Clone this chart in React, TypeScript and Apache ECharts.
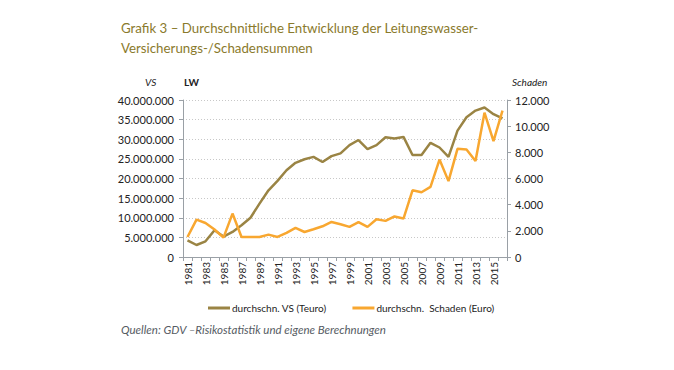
import React, { useEffect, useRef } from "react";
import * as echarts from "echarts";

const years = [
  "1981","1982","1983","1984","1985","1986","1987","1988","1989","1990",
  "1991","1992","1993","1994","1995","1996","1997","1998","1999","2000",
  "2001","2002","2003","2004","2005","2006","2007","2008","2009","2010",
  "2011","2012","2013","2014","2015","2016",
];

// durchschn. VS (Teuro) – left axis
const vsValues = [
  4260000, 3060000, 4000000, 6800000, 5200000, 6400000, 8100000, 10000000, 13600000, 17000000,
  19400000, 22100000, 24000000, 24900000, 25500000, 24200000, 25700000, 26400000, 28500000, 29800000,
  27500000, 28500000, 30500000, 30200000, 30600000, 26000000, 26000000, 29100000, 27900000, 25500000,
  32200000, 35600000, 37300000, 38100000, 36400000, 35300000,
];

// durchschn. Schaden (Euro) – right axis
const schadenValues = [
  1530, 2860, 2600, 2100, 1480, 3320, 1530, 1530, 1530, 1710,
  1530, 1840, 2220, 1910, 2120, 2350, 2680, 2500, 2300, 2660,
  2300, 2880, 2760, 3100, 2940, 5100, 4950, 5360, 7450, 5800,
  8270, 8220, 7330, 11030, 8860, 11180,
];

const titleLines = [
  "Grafik 3 – Durchschnittliche Entwicklung der Leitungswasser-",
  "Versicherungs-/Schadensummen",
];
const sourceText = "Quellen: GDV –Risikostatistik und eigene Berechnungen";
const seriesNames = ["durchschn. VS (Teuro)", "durchschn.  Schaden (Euro)"];

const fmt = (v: number) => String(Math.round(v)).replace(/\B(?=(\d{3})+(?!\d))/g, ".");

const FONT = "Lato";

export default function App() {
  const ref = useRef<HTMLDivElement>(null);
  useEffect(() => {
    if (!ref.current) return;
    const chart = echarts.init(ref.current, null, { renderer: "svg" });
    chart.setOption({
      animation: false,
      backgroundColor: "#ffffff",
      textStyle: { fontFamily: FONT },
      grid: { left: 183, right: 167, top: 100, bottom: 113, containLabel: false },
      graphic: [
        {
          type: "text",
          left: 121,
          top: 21,
          style: { text: titleLines[0], fill: "#8a7a2c", font: `13.3px ${FONT}` },
        },
        {
          type: "text",
          left: 121,
          top: 41,
          style: { text: titleLines[1], fill: "#8a7a2c", font: `13.3px ${FONT}` },
        },
        {
          type: "text",
          left: 145,
          top: 77,
          style: { text: "VS", fill: "#222", font: `italic 10px ${FONT}` },
        },
        {
          type: "text",
          left: 184,
          top: 77,
          style: { text: "LW", fill: "#222", font: `bold 10px ${FONT}` },
        },
        {
          type: "text",
          left: 512,
          top: 77,
          style: { text: "Schaden", fill: "#222", font: `italic 10px ${FONT}` },
        },
        {
          type: "text",
          left: 121,
          top: 323,
          style: { text: sourceText, fill: "#555b63", font: `italic 11.5px ${FONT}` },
        },
      ],
      legend: {
        top: 298,
        left: 203,
        itemGap: 26,
        itemWidth: 22,
        itemHeight: 3,
        icon: "rect",
        textStyle: { fontSize: 10, color: "#222", fontFamily: FONT, padding: [0, 0, 0, -3] },
        data: seriesNames,
      },
      xAxis: {
        type: "category",
        data: years,
        boundaryGap: true,
        axisLine: { lineStyle: { color: "#9aa0a6", width: 1 } },
        axisTick: { show: true, interval: 0, length: 4, lineStyle: { color: "#9aa0a6" } },
        axisLabel: {
          interval: 1,
          rotate: 90,
          fontSize: 10,
          color: "#222",
          margin: 5,
          fontFamily: FONT,
        },
        splitLine: { show: false },
      },
      yAxis: [
        {
          type: "value",
          min: 0,
          max: 40000000,
          interval: 5000000,
          axisLine: { show: true, lineStyle: { color: "#9aa0a6" } },
          axisTick: { show: true, length: 4, lineStyle: { color: "#9aa0a6" } },
          axisLabel: { formatter: fmt, fontSize: 11, color: "#222", margin: 9, fontFamily: FONT },
          splitLine: { show: true, lineStyle: { color: "#c8c8c8", type: [1, 2], width: 1 } },
        },
        {
          type: "value",
          min: 0,
          max: 12000,
          interval: 2000,
          position: "right",
          axisLine: { show: true, lineStyle: { color: "#9aa0a6" } },
          axisTick: { show: true, length: 4, lineStyle: { color: "#9aa0a6" } },
          axisLabel: { formatter: fmt, fontSize: 11, color: "#222", margin: 8, fontFamily: FONT },
          splitLine: { show: false },
        },
      ],
      series: [
        {
          name: seriesNames[0],
          type: "line",
          yAxisIndex: 0,
          data: vsValues,
          showSymbol: false,
          symbol: "none",
          lineStyle: { color: "#9a8444", width: 2.5 },
          itemStyle: { color: "#9a8444" },
        },
        {
          name: seriesNames[1],
          type: "line",
          yAxisIndex: 1,
          data: schadenValues,
          showSymbol: false,
          symbol: "none",
          lineStyle: { color: "#f8a730", width: 2.5 },
          itemStyle: { color: "#f8a730" },
        },
      ],
    });
    return () => chart.dispose();
  }, []);
  return (
    <div
      ref={ref}
      style={{ position: "absolute", left: 0, top: 0, width: 674, height: 370 }}
    />
  );
}
